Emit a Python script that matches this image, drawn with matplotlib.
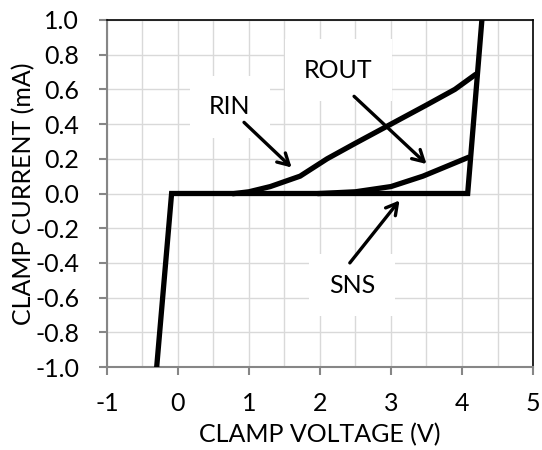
import numpy as np
import matplotlib.pyplot as plt

# clamp curve (common to all pins)
clamp_v = [-0.30, -0.09, 4.08, 4.28]
clamp_i = [-1.0, 0.0, 0.0, 1.0]

# RIN leakage curve
rin_v = [0.8, 1.0, 1.3, 1.72, 2.1, 2.5, 3.0, 3.5, 3.9, 4.17]
rin_i = [0.0, 0.01, 0.04, 0.10, 0.20, 0.29, 0.40, 0.51, 0.60, 0.68]

# ROUT leakage curve
rout_v = [2.0, 2.5, 3.0, 3.45, 4.07]
rout_i = [0.0, 0.01, 0.04, 0.10, 0.205]

# tick labels
xticks = [-1, 0, 1, 2, 3, 4, 5]
yticks = [-1.0, -0.8, -0.6, -0.4, -0.2, 0.0, 0.2, 0.4, 0.6, 0.8, 1.0]
ytick_labels = ['-1.0', '-0.8', '-0.6', '-0.4', '-0.2', '0.0', '0.2', '0.4', '0.6', '0.8', '1.0']

# labels: (text, text pos, arrow start, arrow end)
labels = [
    ('RIN', (0.73, 0.50), (0.93, 0.41), (1.60, 0.15)),
    ('ROUT', (2.26, 0.71), (2.48, 0.56), (3.50, 0.17)),
    ('SNS', (2.45, -0.53), (2.42, -0.40), (3.12, -0.04)),
]

plt.rcParams['font.family'] = ['Lato', 'DejaVu Sans']
plt.rcParams['axes.unicode_minus'] = False
fs = 18
fig = plt.figure(figsize=(5.42, 4.5), dpi=100)
ax = fig.add_axes([0.1974, 0.1844, 0.7860, 0.7712])

lw = 3.8
ax.plot(clamp_v, clamp_i, 'k-', lw=lw, solid_joinstyle='miter', zorder=5)
ax.plot(rin_v, rin_i, 'k-', lw=lw, zorder=5)
ax.plot(rout_v, rout_i, 'k-', lw=lw, zorder=5)

for txt, tpos, a0, a1 in labels:
    ax.text(tpos[0], tpos[1], txt, fontsize=fs, ha='center', va='center', zorder=3,
            bbox=dict(facecolor='white', edgecolor='none', pad=14))
    ax.annotate('', xy=a1, xytext=a0, zorder=6,
                arrowprops=dict(arrowstyle='->,head_length=0.8,head_width=0.45',
                                color='black', lw=2.4, shrinkA=0, shrinkB=0))

ax.set_xlim(-1, 5)
ax.set_ylim(-1.0, 1.0)
ax.set_xticks(xticks)
ax.set_xticklabels([str(v) for v in xticks])
ax.set_xticks(np.arange(-1, 5.01, 0.5), minor=True)
ax.set_yticks(yticks)
ax.set_yticklabels(ytick_labels)
ax.grid(True, which='both', color='#d9d9d9', lw=1.0, zorder=0)
ax.set_axisbelow(True)

ax.tick_params(axis='both', which='major', labelsize=fs, color='#868686', length=6, width=1.5)
ax.tick_params(axis='x', which='minor', length=0)
ax.tick_params(axis='x', pad=12)
ax.tick_params(axis='y', pad=14)

for s in ['left', 'bottom']:
    ax.spines[s].set_color('#868686')
    ax.spines[s].set_linewidth(1.5)
for s in ['top', 'right']:
    ax.spines[s].set_color('black')
    ax.spines[s].set_linewidth(1.2)

ax.set_xlabel('CLAMP VOLTAGE (V)', fontsize=fs, labelpad=6)
ax.set_ylabel('CLAMP CURRENT (mA)', fontsize=fs, labelpad=0)

plt.savefig('out.png', dpi=100)
